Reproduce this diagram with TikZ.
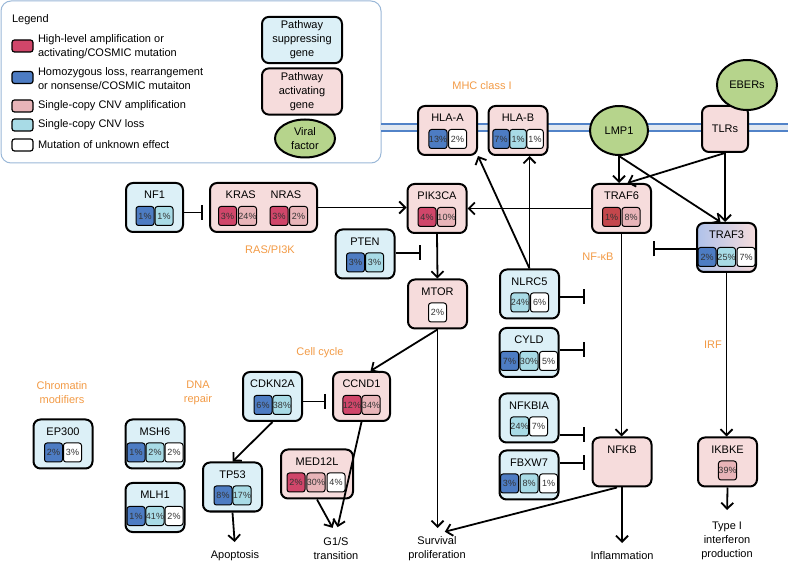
\documentclass[tikz,border=0pt]{standalone}
\usepackage{fontspec}
\setmainfont{Liberation Sans}
\usetikzlibrary{arrows.meta,shapes.geometric}
\definecolor{supfill}{HTML}{DCF0F7}
\definecolor{actfill}{HTML}{F6DCDC}
\definecolor{viralfill}{HTML}{B6D48C}
\definecolor{hiamp}{HTML}{D0466A}
\definecolor{homloss}{HTML}{4D7CC3}
\definecolor{cnvamp}{HTML}{E8B4B8}
\definecolor{cnvloss}{HTML}{A8DBE6}
\definecolor{darkred}{HTML}{C4474C}
\definecolor{pathorange}{HTML}{F29A45}
\definecolor{legendline}{HTML}{9BB8D8}
\definecolor{memblue}{HTML}{5283C8}
\definecolor{memgap}{HTML}{E2E8F0}
\definecolor{trafblue}{HTML}{AFC2EA}
\begin{document}
\begin{tikzpicture}
    [
    x=1pt, y=-1pt,
    font=\fontsize{11}{14}\selectfont,
    box/.style={rectangle,draw,rounded corners=7pt,line width=2pt,inner xsep=2pt,inner ysep=4pt,minimum width=59pt},
    actgene/.style={box,fill=actfill,text height=12pt,text depth=29pt},
    supgene/.style={box,fill=supfill,text height=12pt,text depth=29pt},
    viral/.style={ellipse,draw,line width=2pt,fill=viralfill,inner sep=0pt},
    cell/.style={rectangle,draw,rounded corners=2.5pt,line width=1pt,minimum width=18pt,minimum height=19pt,inner sep=0pt,text=black!80,font=\fontsize{9}{10}\selectfont},
    swatch/.style={rectangle,draw,rounded corners=2.5pt,line width=1.2pt,minimum width=21pt,minimum height=12pt,inner sep=0pt},
    pathway/.style={text=pathorange,align=center},
    outcome/.style={anchor=north,align=center},
    arr/.style={-{Straight Barb[length=6pt,width=12pt]},line width=1.8pt},
    inh/.style={-{Bar[width=15pt]},line width=1.8pt}
    ]
    \useasboundingbox (0,0) rectangle (788,561);

    % legend
    \draw [legendline,fill=white,line width=1pt,rounded corners=10pt] (1,1) rectangle (381,163);
    \node (legend) at (8.5,20) [anchor=west] {Legend};
    \node (sw1) at (22.5,46) [swatch,fill=hiamp] {};
    \node (sw2) at (22.5,77.5) [swatch,fill=homloss] {};
    \node (sw3) at (22.5,106) [swatch,fill=cnvamp] {};
    \node (sw4) at (22.5,125) [swatch,fill=cnvloss] {};
    \node (sw5) at (22.5,145) [swatch,fill=white] {};
    \node (lt1) at (34.5,46.5) [anchor=west,align=left] {High-level amplification or\\activating/COSMIC mutation};
    \node (lt2) at (34.5,78.5) [anchor=west,align=left] {Homozygous loss, rearrangement\\or nonsense/COSMIC mutaiton};
    \node (lt3) at (34.5,106) [anchor=west] {Single-copy CNV amplification};
    \node (lt4) at (34.5,125) [anchor=west] {Single-copy CNV loss};
    \node (lt5) at (34.5,145) [anchor=west] {Mutation of unknown effect};
    \node (supkey) at (302,40) [box,fill=supfill,minimum width=80pt,minimum height=44pt,align=center] {Pathway\\suppressing\\gene};
    \node (actkey) at (302,91.5) [box,fill=actfill,minimum width=80pt,minimum height=43pt,align=center] {Pathway\\activating\\gene};
    \node (viralkey) at (305,138.5) [viral,minimum width=60pt,minimum height=38pt,align=center] {Viral\\factor};

    % membrane
    \fill [memgap] (381,124) rectangle (788,131);
    \draw [memblue,line width=1.8pt] (381,124) -- (788,124);
    \draw [memblue,line width=1.8pt] (381,131) -- (788,131);

    % pathway labels
    \node (mhc) at (482,86) [pathway] {MHC class I};
    \node (ras) at (270,250) [pathway] {RAS/PI3K};
    \node (nfkbl) at (598,257) [pathway] {NF-κB};
    \node (irf) at (713,345) [pathway] {IRF};
    \node (cellc) at (320,353) [pathway] {Cell cycle};
    \node (chrom) at (62,392.5) [pathway] {Chromatin\\modifiers};
    \node (dnar) at (198,392.5) [pathway] {DNA\\repair};

    % membrane genes and viral factors
    \node (hlaa) at (447.5,130.5) [actgene] {HLA-A};
    \node (hlaa1) at (438,139) [cell,fill=homloss] {13\%};
    \node (hlaa2) at (457.5,139) [cell,fill=white] {2\%};
    \node (hlab) at (518,130.5) [actgene] {HLA-B};
    \node (hlab1) at (501,139) [cell,fill=homloss,minimum width=16.5pt] {7\%};
    \node (hlab2) at (518,139) [cell,fill=cnvloss,minimum width=16.5pt] {1\%};
    \node (hlab3) at (535,139) [cell,fill=white,minimum width=16.5pt] {1\%};
    \node (lmp1) at (619,130.5) [viral,minimum width=58pt,minimum height=49pt] {LMP1};
    \node (tlrs) at (725,129) [box,fill=actfill,minimum width=46pt,minimum height=46pt] {TLRs};
    \node (ebers) at (747,85) [viral,minimum width=60pt,minimum height=50pt] {EBERs};

    % RAS/PI3K
    \node (nf1) at (154.5,207.5) [supgene,minimum width=57pt] {NF1};
    \node (nf1a) at (145,216) [cell,fill=homloss] {1\%};
    \node (nf1b) at (164,216) [cell,fill=cnvloss] {1\%};
    \node (kras) at (263.5,207.5) [actgene,minimum width=107pt] {KRAS\hspace{15pt}NRAS};
    \node (kras1) at (227.5,216) [cell,fill=hiamp] {3\%};
    \node (kras2) at (247.5,216) [cell,fill=cnvamp] {24\%};
    \node (nras1) at (279,216) [cell,fill=hiamp] {3\%};
    \node (nras2) at (298.5,216) [cell,fill=cnvamp] {2\%};
    \node (pik3ca) at (437,208.5) [actgene] {PIK3CA};
    \node (pik3ca1) at (427,217) [cell,fill=hiamp] {4\%};
    \node (pik3ca2) at (446.5,217) [cell,fill=cnvamp] {10\%};
    \node (pten) at (365,254) [supgene] {PTEN};
    \node (pten1) at (355.5,262.5) [cell,fill=homloss] {3\%};
    \node (pten2) at (374.5,262.5) [cell,fill=cnvloss] {3\%};
    \node (mtor) at (437.5,304) [actgene] {MTOR};
    \node (mtor1) at (437.5,312.5) [cell,fill=white] {2\%};

    % NF-kB and IRF
    \node (traf6) at (621.5,208.5) [actgene] {TRAF6};
    \node (traf61) at (611.5,217) [cell,fill=darkred] {1\%};
    \node (traf62) at (631,217) [cell,fill=cnvamp] {8\%};
    \node (traf3) at (726.5,247.5) [box,left color=trafblue,right color=actfill,text height=12pt,text depth=29pt] {TRAF3};
    \node (traf31) at (707,257) [cell,fill=homloss] {2\%};
    \node (traf32) at (726.5,257) [cell,fill=cnvloss] {25\%};
    \node (traf33) at (746,257) [cell,fill=white] {7\%};
    \node (nlrc5) at (529.5,294) [supgene] {NLRC5};
    \node (nlrc51) at (520,302.5) [cell,fill=cnvloss] {24\%};
    \node (nlrc52) at (539.5,302.5) [cell,fill=white] {6\%};
    \node (cyld) at (529,352.5) [supgene] {CYLD};
    \node (cyld1) at (509.5,361) [cell,fill=homloss] {7\%};
    \node (cyld2) at (529,361) [cell,fill=cnvloss] {30\%};
    \node (cyld3) at (548.5,361) [cell,fill=white] {5\%};
    \node (nfkbia) at (529,418) [supgene] {NFKBIA};
    \node (nfkbia1) at (519.5,426.5) [cell,fill=cnvloss] {24\%};
    \node (nfkbia2) at (538.5,426.5) [cell,fill=white] {7\%};
    \node (fbxw7) at (529,475) [supgene] {FBXW7};
    \node (fbxw71) at (509.5,483.5) [cell,fill=homloss] {3\%};
    \node (fbxw72) at (529,483.5) [cell,fill=cnvloss] {8\%};
    \node (fbxw73) at (548.5,483.5) [cell,fill=white] {1\%};
    \node (nfkb) at (622,462) [actgene] {NFKB};
    \node (ikbke) at (727.5,462) [actgene] {IKBKE};
    \node (ikbke1) at (727.5,470.5) [cell,fill=cnvamp] {39\%};

    % cell cycle, DNA repair, chromatin
    \node (cdkn2a) at (272.5,396.5) [supgene] {CDKN2A};
    \node (cdkn2a1) at (263,405) [cell,fill=homloss] {6\%};
    \node (cdkn2a2) at (282,405) [cell,fill=cnvloss] {38\%};
    \node (ccnd1) at (361.5,396.5) [actgene,minimum width=57pt] {CCND1};
    \node (ccnd11) at (352,405) [cell,fill=hiamp] {12\%};
    \node (ccnd12) at (371,405) [cell,fill=cnvamp] {34\%};
    \node (tp53) at (232.5,487) [supgene] {TP53};
    \node (tp531) at (223,495.5) [cell,fill=homloss] {8\%};
    \node (tp532) at (242,495.5) [cell,fill=cnvloss] {17\%};
    \node (med12l) at (317,474) [actgene,minimum width=72pt] {MED12L};
    \node (med12l1) at (296,482.5) [cell,fill=hiamp] {2\%};
    \node (med12l2) at (316,482.5) [cell,fill=cnvamp] {30\%};
    \node (med12l3) at (336,482.5) [cell,fill=white] {4\%};
    \node (ep300) at (63,444) [supgene] {EP300};
    \node (ep3001) at (53.5,452.5) [cell,fill=homloss] {2\%};
    \node (ep3002) at (72.5,452.5) [cell,fill=white] {3\%};
    \node (msh6) at (155,444) [supgene] {MSH6};
    \node (msh61) at (136,452.5) [cell,fill=homloss] {1\%};
    \node (msh62) at (155,452.5) [cell,fill=cnvloss] {2\%};
    \node (msh63) at (174,452.5) [cell,fill=white] {2\%};
    \node (mlh1) at (155,507.5) [supgene] {MLH1};
    \node (mlh11) at (136,516) [cell,fill=homloss] {1\%};
    \node (mlh12) at (155,516) [cell,fill=cnvloss] {41\%};
    \node (mlh13) at (174,516) [cell,fill=white] {2\%};

    % outcomes
    \node (apop) at (235,547) [outcome] {Apoptosis};
    \node (g1s) at (336,534) [outcome] {G1/S\\transition};
    \node (surv) at (437,533) [outcome] {Survival\\proliferation};
    \node (infl) at (622,548) [outcome] {Inflammation};
    \node (typei) at (727,518) [outcome] {Type I\\interferon\\production};

    % free ends of the inhibitions
    \coordinate (ptenbar) at (421,253);
    \coordinate (traf3bar) at (653,249);
    \coordinate (nlrc5bar) at (585,297);
    \coordinate (cyldbar) at (585,350);
    \coordinate (nfkbiabar) at (585,435);
    \coordinate (fbxw7bar) at (585,463);

    % activations
    \draw [arr] (kras.east) -- (kras.east -| pik3ca.west);
    \draw [arr] (traf6.west) -- (pik3ca.east);
    \draw [arr] (pik3ca.south) -- (mtor.north);
    \draw [arr] (mtor.south) -- ([xshift=9pt]ccnd1.north);
    \draw [arr] (nlrc5.north) -- (hlaa.south east);
    \draw [arr] (nlrc5.north) -- (nlrc5.north |- hlab.south);
    \draw [arr] (lmp1.south) -- (lmp1.south |- traf6.north);
    \draw [arr] (lmp1.south) -- ([xshift=-6pt]traf3.north);
    \draw [arr] (tlrs.south) -- ([xshift=6pt]traf6.north);
    \draw [arr] (tlrs.south) -- (tlrs.south |- traf3.north);
    \draw [arr] (traf6.south) -- (traf6.south |- nfkb.north);
    \draw [arr] (traf3.south) -- (traf3.south |- ikbke.north);
    \draw [arr] (cdkn2a.south) -- (tp53.north);
    \draw [arr,shorten >=5pt] (tp53.south) -- (apop.north);
    \draw [arr,shorten >=7pt] (ccnd1.south) -- (g1s.north);
    \draw [arr,shorten >=7pt] (med12l.south) -- (g1s.north);
    \draw [arr,shorten >=5pt] (mtor.south) -- (mtor.south |- surv.north);
    \draw [arr,shorten >=5pt] ([xshift=-5pt]nfkb.south) -- ([xshift=3pt]surv.north);
    \draw [arr,shorten >=5pt] (nfkb.south) -- (infl.north);
    \draw [arr,shorten >=8pt] (ikbke.south) -- (typei.north);

    % inhibitions
    \draw [inh,shorten >=6pt] ([yshift=-5pt]nf1.east) -- ([yshift=-5pt]nf1.east -| kras.west);
    \draw [inh,shorten >=6pt] ([yshift=-5pt]cdkn2a.east) -- ([yshift=-5pt]cdkn2a.east -| ccnd1.west);
    \draw [inh] (pten.east |- ptenbar) -- (ptenbar);
    \draw [inh] (traf3.west |- traf3bar) -- (traf3bar);
    \draw [inh] (nlrc5.east |- nlrc5bar) -- (nlrc5bar);
    \draw [inh] (cyld.east |- cyldbar) -- (cyldbar);
    \draw [inh] (nfkbia.east |- nfkbiabar) -- (nfkbiabar);
    \draw [inh] (fbxw7.east |- fbxw7bar) -- (fbxw7bar);
\end{tikzpicture}
\end{document}
